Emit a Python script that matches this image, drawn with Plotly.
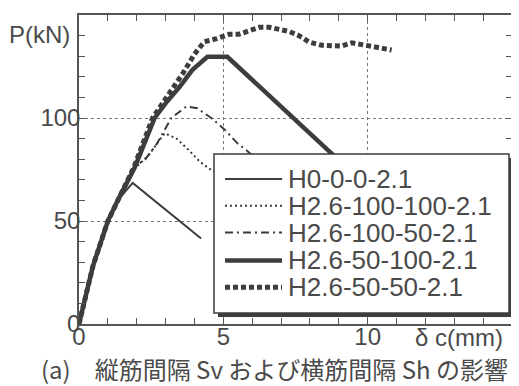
import plotly.graph_objects as go

# ---- data ----
names = ["H0-0-0-2.1", "H2.6-100-100-2.1", "H2.6-100-50-2.1", "H2.6-50-100-2.1", "H2.6-50-50-2.1"]

h0_x = [0, 0.2, 0.48, 1.0, 1.34, 1.86, 4.23]
h0_y = [0, 12, 28, 50, 60, 68.5, 41.5]

s100_100_x = [0, 0.2, 0.48, 1.0, 1.34, 1.9, 2.2, 2.45, 2.72, 2.97, 3.38, 3.76, 4.17, 4.5, 5.2]
s100_100_y = [0, 12, 28, 50, 60, 75, 79, 82.5, 88, 92.6, 90, 85, 79, 75.5, 70]

s100_50_x = [0, 0.2, 0.48, 1.0, 1.34, 1.9, 2.3, 2.69, 3.2, 3.72, 4.1, 4.59, 5.03, 5.48, 5.83, 6.3]
s100_50_y = [0, 12, 28, 50, 60, 76, 80, 87.3, 100, 105.6, 104.7, 99.9, 94.6, 87.8, 84, 78]

s50_100_x = [0, 0.2, 0.48, 1.0, 1.34, 1.93, 2.62, 3.05, 3.48, 3.93, 4.45, 5.14, 8.76, 9.5]
s50_100_y = [0, 12, 28, 50, 60, 76, 100, 108, 115, 123.4, 129.7, 129.7, 82.5, 73]

s50_50_x = [0, 0.2, 0.48, 1.0, 1.34, 1.9, 2.55, 3.14, 3.59, 4.0, 4.34, 4.76, 5.2, 5.55, 5.9,
            6.24, 6.59, 6.93, 7.28, 7.62, 7.97, 8.41, 8.76, 9.1, 9.45, 9.8, 10.14, 10.48, 10.83]
s50_50_y = [0, 12, 28, 50, 60, 76, 100, 112, 121.5, 131, 137, 138.5, 140.6, 140.7, 142.5,
            144, 144, 143, 142, 140, 136.9, 135.3, 135.3, 134.9, 136.5, 135.6, 134.5, 133.5, 133]

x_ticks = [0, 5, 10]
y_ticks = [0, 50, 100]
x_title = "δ c(mm)"
y_title = "P(kN)"
caption = "(a)\u3000縦筋間隔 Sv および横筋間隔 Sh の影響"

# ---- styling ----
LC = "#3d3d3d"
TC = "#4a4a4a"
LAT = "Liberation Sans, Arial, sans-serif"
styles = [
    dict(width=2, dash="solid"),
    dict(width=2, dash="2px,3px"),
    dict(width=2, dash="8px,4px,2px,4px"),
    dict(width=4.5, dash="solid"),
    dict(width=5, dash="5px,3px"),
]
series = [(h0_x, h0_y), (s100_100_x, s100_100_y), (s100_50_x, s100_50_y),
          (s50_100_x, s50_100_y), (s50_50_x, s50_50_y)]

fig = go.Figure()
for (xs, ys), nm, st in zip(series, names, styles):
    fig.add_trace(go.Scatter(x=xs, y=ys, name=nm, mode="lines",
                             line=dict(color=LC, width=st["width"], dash=st["dash"]),
                             showlegend=False))

# page has an 8px body margin; figure is sized to fit in the 519x386 window
OFF = 8
PAGE_W, PAGE_H = 519, 386
W, H = PAGE_W - OFF, PAGE_H - OFF
PL, PR, PT, PB = 79, 512, 13, 324   # plot area in page pixels
ML, MR, MT, MB = PL - OFF, PAGE_W - PR, PT - OFF, PAGE_H - PB
PW, PH = PR - PL, PB - PT


def px(xp):
    return (xp - PL) / PW


def py(yp):
    return (PB - yp) / PH


shapes = []
# legend box shadow and box
shapes.append(dict(type="rect", xref="paper", yref="paper", layer="above",
                   x0=px(218), x1=px(513), y0=py(317), y1=py(157),
                   fillcolor=LC, line=dict(width=0)))
shapes.append(dict(type="rect", xref="paper", yref="paper", layer="above",
                   x0=px(214), x1=px(509), y0=py(313), y1=py(153),
                   fillcolor="white", line=dict(color=LC, width=1.5)))
rows = [178, 205, 232, 260, 287]
annotations = []
for nm, st, ry in zip(names, styles, rows):
    shapes.append(dict(type="line", xref="paper", yref="paper", layer="above",
                       x0=px(225), x1=px(282), y0=py(ry), y1=py(ry),
                       line=dict(color=LC, width=st["width"], dash=st["dash"])))
    annotations.append(dict(text=nm, xref="paper", yref="paper", x=px(286), y=py(ry),
                            xanchor="left", yanchor="middle", showarrow=False,
                            font=dict(family=LAT, size=26, color=TC)))

annotations.append(dict(text=y_title, xref="paper", yref="paper", x=px(39), y=py(33),
                        xanchor="center", yanchor="middle", showarrow=False,
                        font=dict(family=LAT, size=24, color=TC)))
annotations.append(dict(text=x_title, xref="paper", yref="paper", x=px(459), y=py(338),
                        xanchor="center", yanchor="middle", showarrow=False,
                        font=dict(family=LAT, size=24, color=TC)))
annotations.append(dict(text=caption, xref="paper", yref="paper", x=px(274), y=py(369),
                        xanchor="center", yanchor="middle", showarrow=False,
                        font=dict(family="Noto Sans CJK JP", size=24, color=TC)))

axis_common = dict(showline=True, linecolor="#555", linewidth=1.5, mirror="ticks",
                   ticks="inside", ticklen=6, tickcolor="#555", tickwidth=1.2,
                   showgrid=True, gridcolor="#777", griddash="dot", gridwidth=1,
                   zeroline=False, tickfont=dict(family=LAT, size=24, color=TC))

fig.update_xaxes(range=[0, 15], tickvals=x_ticks, ticktext=[str(v) for v in x_ticks],
                 ticklabelstandoff=-10,
                 minor=dict(dtick=1, tick0=0, ticks="inside", ticklen=6, tickcolor="#555",
                            showgrid=False),
                 **axis_common)
fig.update_yaxes(range=[0, 150], tickvals=y_ticks, ticktext=[str(v) for v in y_ticks],
                 ticklabelstandoff=-8,
                 minor=dict(dtick=10, tick0=0, ticks="inside", ticklen=6, tickcolor="#555",
                            showgrid=False),
                 **axis_common)

fig.update_layout(width=W, height=H, margin=dict(l=ML, r=MR, t=MT, b=MB),
                  paper_bgcolor="white", plot_bgcolor="white",
                  shapes=shapes, annotations=annotations, showlegend=False)

fig.write_html("out.html")
